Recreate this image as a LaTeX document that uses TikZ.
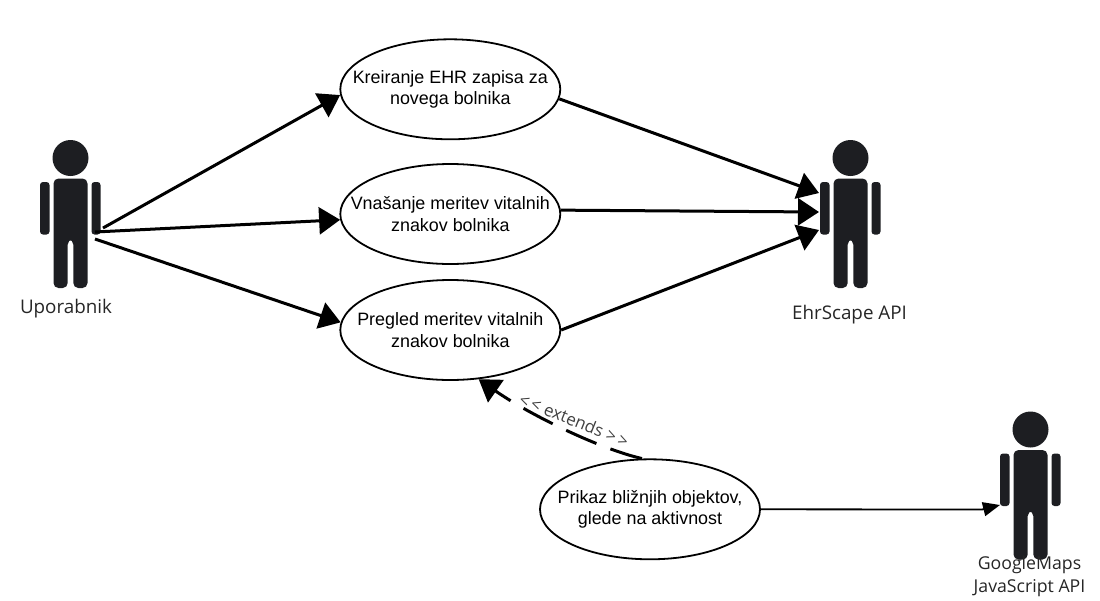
\documentclass[tikz,border=0pt]{standalone}
\usepackage{fontspec}
\setmainfont{Liberation Sans}
\newfontfamily\labelfont{Open Sans}
\usetikzlibrary{arrows.meta,shapes.geometric}
\definecolor{actorfill}{HTML}{1D1E22}
\tikzset{
  usecase/.style={draw,ellipse,line width=1.8pt,minimum width=220pt,minimum height=100pt,inner xsep=-60pt,inner ysep=0pt,align=center,font=\fontsize{17.9}{21.6}\selectfont},
  assoc/.style={line width=3pt,-{Triangle[length=21pt,width=27pt]}},
  actorlabel/.style={align=center,font=\labelfont\fontsize{18.8}{23}\selectfont,text=black!85},
  actor/.pic={
    \fill[actorfill] (0,0) circle (18);
    \fill[actorfill,rounded corners=5pt] (-17,20.5) -- (17,20.5) -- (17,130) -- (2.8,130) -- (2.8,81.5) -- (-2.8,81.5) -- (-2.8,130) -- (-17,130) -- cycle;
    \fill[actorfill,rounded corners=3pt] (-30.5,24) rectangle (-21,76.5);
    \fill[actorfill,rounded corners=3pt] (21,24) rectangle (30,76.5);
  }
}
\begin{document}
\begin{tikzpicture}[x=1pt,y=-1pt]
\useasboundingbox (0,0) rectangle (1100,600);
% actors
\pic at (70.5,158) {actor};
\pic at (850.5,158) {actor};
\pic at (1030.5,429.5) {actor};
\node[actorlabel] (uporabnik) at (66,309) {Uporabnik};
\node[actorlabel] (ehrscape) at (849.5,315) {EhrScape API};
\node[actorlabel,font=\labelfont\fontsize{17.7}{23}\selectfont] (googlemaps) at (1029.5,576) {GoogleMaps\\JavaScript API};
% use cases
\node[usecase] (kreiranje) at (450.3,89.3) {Kreiranje EHR zapisa za\\novega bolnika};
\node[usecase] (vnasanje) at (450.3,214) {Vnašanje meritev vitalnih\\znakov bolnika};
\node[usecase] (pregled) at (450.3,330) {Pregled meritev vitalnih\\znakov bolnika};
\node[usecase] (prikaz) at (650,509.3) {Prikaz bližnjih objektov,\\glede na aktivnost};
% free ends on the actors
\coordinate (u1) at (103,228);
\coordinate (u2) at (95,232);
\coordinate (u3) at (95,239);
\coordinate (e1) at (819,193);
\coordinate (e2) at (819,212);
\coordinate (e3) at (819,230);
\coordinate (g0) at (982,509.5);
\coordinate (g1) at (1000,505);
\coordinate (c1) at (600,449);
\coordinate (c2) at (530,415);
\draw[assoc] (u1) -- (kreiranje.183);
\draw[assoc] (u2) -- (vnasanje.183);
\draw[assoc] (u3) -- (pregled.176);
\draw[assoc] (kreiranje.-5.4) -- (e1);
\draw[assoc] (vnasanje.2.7) -- (e2);
\draw[assoc] (pregled.east) -- (e3);
\draw[line width=1.8pt,-{Triangle[length=17pt,width=14pt]}] (prikaz.east) -- (g0) -- (g1);
\draw[line width=3pt,dash pattern=on 33pt off 15pt,-{Triangle[length=21pt,width=27pt]}] (prikaz.99) .. controls (c1) and (c2) .. (pregled.-60);
\node[rotate=-22,font=\labelfont\fontsize{17}{18}\selectfont,text=black!75] (extendslabel) at (574,420) {<\,< extends >\,>};
\end{tikzpicture}
\end{document}
